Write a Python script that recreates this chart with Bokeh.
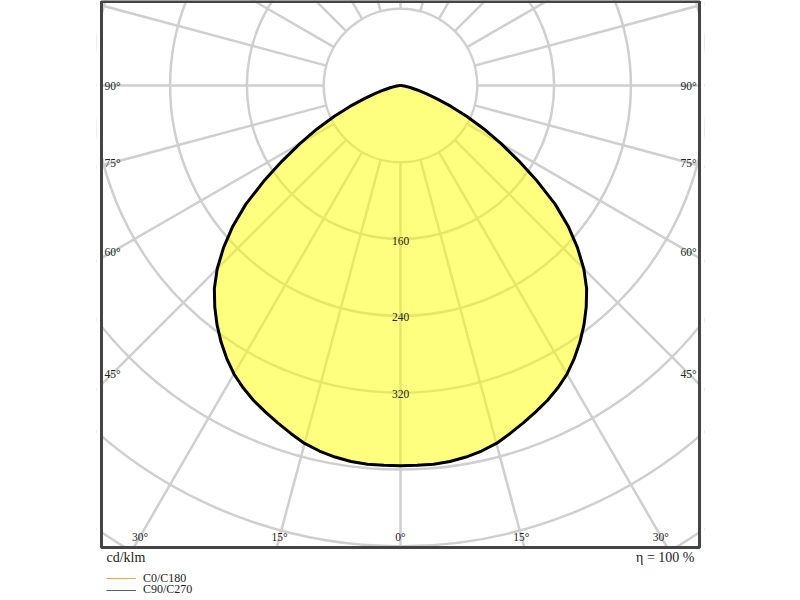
import numpy as np
from bokeh.plotting import figure
from bokeh.models import Range1d, Legend, LegendItem
from bokeh.core.properties import value
from bokeh.embed import file_html
from bokeh.resources import INLINE

# ---------------- data ----------------
gamma_deg = [0, 2.5, 5, 7.5, 10, 12.5, 15, 17.5, 20, 22.5, 25, 27.5, 30, 32.5,
             35, 37.5, 40, 42.5, 45, 47.5, 50, 52.5, 55, 57.5, 60, 62.5, 65,
             67.5, 70, 72.5, 75, 77.5, 80, 82.5, 85, 87.5, 90]
c0_c180 = [396, 396, 396, 395, 393, 390, 386, 380, 374, 368, 362, 355, 347, 337,
           326, 314, 301, 287, 270, 250, 228, 203, 174, 146, 121, 98, 76,
           57, 40, 28, 18, 11, 7, 4, 2, 1, 0]
c90_c270 = [396, 396, 396, 395, 393, 390, 386, 380, 374, 368, 362, 355, 347, 337,
            326, 314, 301, 287, 270, 250, 228, 203, 174, 146, 121, 98, 76,
            57, 40, 28, 18, 11, 7, 4, 2, 1, 0]
series_names = ["C0/C180", "C90/C270"]
ring_radii = [80, 160, 240, 320, 400, 480, 560]
ring_labels = [160, 240, 320]
spoke_angles = list(range(0, 360, 15))
side_angles = [45, 60, 75, 90]
bottom_angles = [0, 15, 30]
unit_text = "cd/klm"
eta_text = "η = 100 %"

# ---------------- layout constants (px) ----------------
W, H = 800, 598
F_L, F_R, F_T, F_B = 96, 704, 0, 598      # bokeh frame
B_L, B_R, B_T, B_B = 101, 699, 1, 547     # drawn diagram box
CX, CY = 400, 85                           # pole position
S = 0.96                                   # px per cd/klm


def dx(px):
    return (px - CX) / S


def dy(py):
    return (CY - py) / S


FONT_NAME = "Liberation Serif"
FONT = value(FONT_NAME)
GRID = "#cfcfcf"
TXT = "#222222"

p = figure(width=W, height=H, output_backend="svg", toolbar_location=None,
           x_range=Range1d(dx(F_L), dx(F_R)), y_range=Range1d(dy(F_B), dy(F_T)),
           x_axis_type=None, y_axis_type=None,
           min_border_left=F_L, min_border_right=W - F_R,
           min_border_top=F_T, min_border_bottom=H - F_B)
p.grid.visible = False
p.outline_line_color = None
p.background_fill_color = "white"
p.border_fill_color = "white"

# grid: rings
p.circle(x=[0] * len(ring_radii), y=[0] * len(ring_radii), radius=ring_radii,
         fill_color=None, line_color=GRID, line_width=2.5)
# grid: spokes
a = np.radians(spoke_angles)
r0, r1 = ring_radii[0], 1000
p.segment(x0=r0 * np.sin(a), y0=-r0 * np.cos(a), x1=r1 * np.sin(a), y1=-r1 * np.cos(a),
          line_color=GRID, line_width=2.5)


# curves
def polar_xy(gam, vals):
    g = np.radians(np.concatenate([-np.array(gam[::-1]), np.array(gam[1:])]))
    v = np.concatenate([np.array(vals[::-1]), np.array(vals[1:])])
    return v * np.sin(g), -v * np.cos(g)


x0, y0 = polar_xy(gamma_deg, c0_c180)
x9, y9 = polar_xy(gamma_deg, c90_c270)
p.patch(x0, y0, fill_color="#ffff00", fill_alpha=0.5, line_color=None)
r_c0 = p.line(x0, y0, line_color="#f5a442", line_width=1)
r_c90 = p.line(x9, y9, line_color="#5a5a6e", line_width=1)
p.line(x9, y9, line_color="black", line_width=3)

# white masks outside the diagram box
p.quad(left=[dx(F_L), dx(B_R), dx(F_L), dx(F_L)],
       right=[dx(B_L), dx(F_R), dx(F_R), dx(F_R)],
       top=[dy(F_T), dy(F_T), dy(B_B), dy(F_T)],
       bottom=[dy(F_B), dy(F_B), dy(F_B), dy(B_T)],
       fill_color="white", line_color=None)
# diagram box
p.quad(left=dx(B_L), right=dx(B_R), top=dy(B_T), bottom=dy(B_B),
       fill_color=None, line_color="#444444", line_width=3)

# ring value labels
p.text(x=[0] * len(ring_labels), y=[-r for r in ring_labels], text=[str(r) for r in ring_labels],
       text_font=FONT, text_font_size="11.5px", text_align="center",
       text_baseline="middle", text_color=TXT, y_offset=1.5)

# angle labels
X = dx(B_R - 11)
sx, sy, st = [], [], []
for ang in side_angles:
    cot = np.cos(np.radians(ang)) / np.sin(np.radians(ang))
    for sgn in (-1, 1):
        sx.append(sgn * X)
        sy.append(-X * cot)
        st.append(f"{ang}°")
Y = -dy(B_B - 11)
for ang in bottom_angles:
    t = np.tan(np.radians(ang))
    for sgn in ((1,) if ang == 0 else (-1, 1)):
        sx.append(sgn * Y * t)
        sy.append(-Y)
        st.append(f"{ang}°")
p.text(x=sx, y=sy, text=st, text_font=FONT, text_font_size="11.5px",
       text_align="center", text_baseline="middle", text_color=TXT)

# texts below the box
p.text(x=[dx(106)], y=[dy(557)], text=[unit_text], text_font=FONT, text_font_size="14px",
       text_align="left", text_baseline="middle", text_color=TXT)
p.text(x=[dx(694)], y=[dy(557)], text=[eta_text], text_font=FONT, text_font_size="14px",
       text_align="right", text_baseline="middle", text_color=TXT)

# legend: one box per series so that the rows sit close together
for name, rend, bottom_px in ((series_names[0], r_c0, 585.5), (series_names[1], r_c90, 597)):
    lg = Legend(items=[LegendItem(label=name, renderers=[rend])],
                location=(106 - F_L, F_B - bottom_px), orientation="vertical",
                glyph_width=30, glyph_height=12, label_height=12, spacing=0,
                padding=0, margin=0, label_standoff=7,
                border_line_color=None, background_fill_alpha=0,
                label_text_font=FONT_NAME, label_text_font_size="12px",
                label_text_color=TXT)
    p.add_layout(lg, "center")

html = file_html(p, INLINE)
html = html.replace("<head>", "<head><style>html,body{margin:0;padding:0;overflow:hidden}</style>", 1)
open("out.html", "w").write(html)
